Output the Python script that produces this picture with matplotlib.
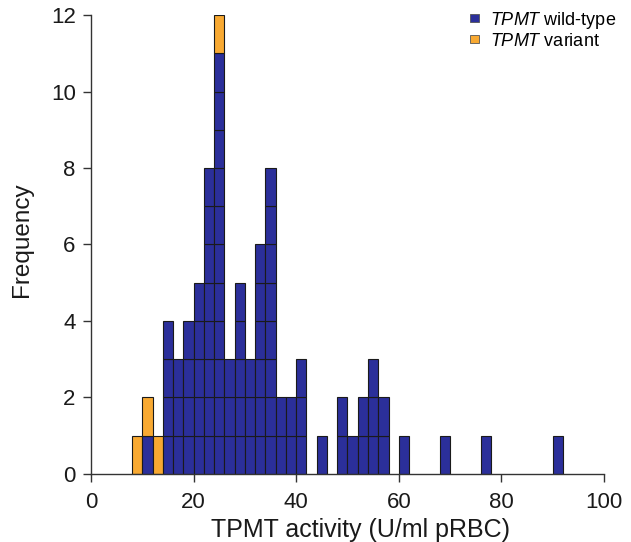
import numpy as np
import matplotlib
matplotlib.use("Agg")
import matplotlib.pyplot as plt
from matplotlib.patches import Patch

plt.rcParams["font.family"] = ["Liberation Sans", "DejaVu Sans"]
plt.rcParams["mathtext.fontset"] = "custom"
plt.rcParams["mathtext.it"] = "Liberation Sans:italic"
plt.rcParams["mathtext.rm"] = "Liberation Sans"

BIN_WIDTH = 2

# left edge of each bin (U/ml pRBC) and counts per genotype
bin_left = [8, 10, 12, 14, 16, 18, 20, 22, 24, 26, 28, 30, 32, 34, 36, 38, 40,
            44, 48, 50, 52, 54, 56, 60, 68, 76, 90]
wild_type = [0, 1, 0, 4, 3, 4, 5, 8, 11, 3, 5, 3, 6, 8, 2, 2, 3,
             1, 2, 1, 2, 3, 2, 1, 1, 1, 1]
variant = [1, 1, 1, 0, 0, 0, 0, 0, 1, 0, 0, 0, 0, 0, 0, 0, 0,
           0, 0, 0, 0, 0, 0, 0, 0, 0, 0]

BLUE = "#2b2f9a"
ORANGE = "#f8a932"

fig = plt.figure(figsize=(6.31, 5.42), dpi=100)
ax = fig.add_axes([0.1442, 0.1255, 0.8130, 0.8468])

# every patient is one box, wild-type stacked below variant
for left, nw, nv in zip(bin_left, wild_type, variant):
    for k in range(nw):
        ax.bar(left, 1, bottom=k, width=BIN_WIDTH, align="edge",
               color=BLUE, edgecolor="#1a1a1a", linewidth=0.8)
    for k in range(nv):
        ax.bar(left, 1, bottom=nw + k, width=BIN_WIDTH, align="edge",
               color=ORANGE, edgecolor="#1a1a1a", linewidth=0.8)

ax.set_xlim(0, 100)
ax.set_ylim(0, 12)
ax.set_xticks(np.arange(0, 101, 20))
ax.set_yticks(np.arange(0, 13, 2))
ax.spines["top"].set_visible(False)
ax.spines["right"].set_visible(False)
for s in ("left", "bottom"):
    ax.spines[s].set_color("#333333")
    ax.spines[s].set_linewidth(1.0)
ax.tick_params(direction="out", length=6, width=1.0, colors="#333333",
               labelsize=16, labelcolor="#1a1a1a")
ax.tick_params(axis="y", pad=5)
ax.tick_params(axis="x", pad=7)

ax.set_xlabel("TPMT activity (U/ml pRBC)", fontsize=18, color="#1a1a1a")
ax.xaxis.set_label_coords(0.525, -0.095)
ax.set_ylabel("Frequency", fontsize=17.5, color="#1a1a1a")
ax.yaxis.set_label_coords(-0.113, 0.51)

handles = [Patch(facecolor=BLUE, edgecolor="#555555", linewidth=0.6),
           Patch(facecolor=ORANGE, edgecolor="#555555", linewidth=0.6)]
labels = [r"$\mathit{TPMT}$ wild-type", r"$\mathit{TPMT}$ variant"]
ax.legend(handles, labels, loc="upper right", bbox_to_anchor=(1.045, 1.035),
          frameon=False, fontsize=13, handlelength=0.5, handleheight=0.3,
          handletextpad=0.6, labelspacing=0.12, borderaxespad=0.2)

fig.savefig("out.png", dpi=100)
